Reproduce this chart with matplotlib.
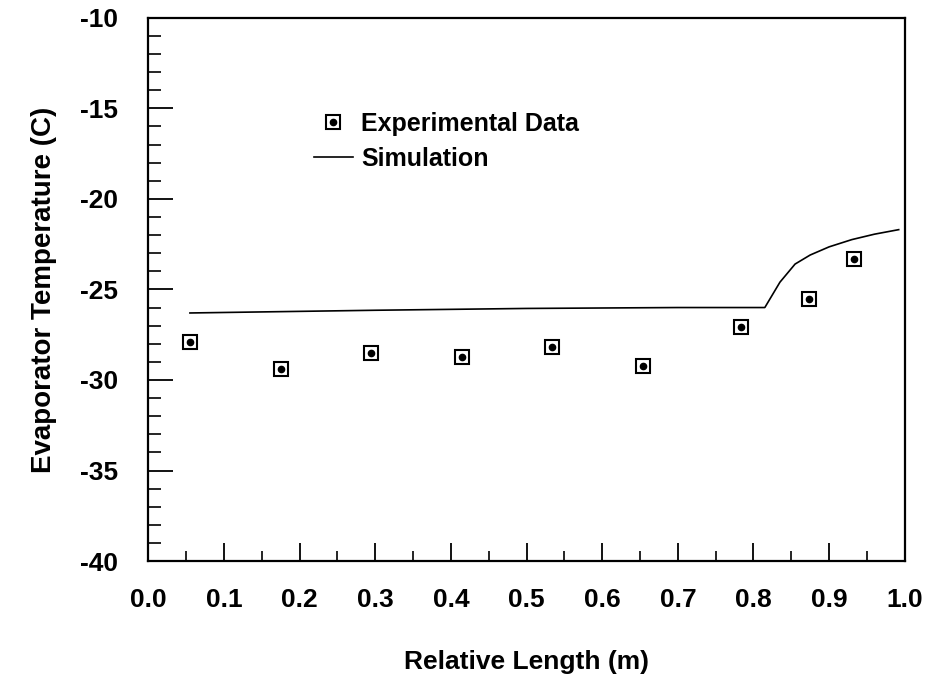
import matplotlib
matplotlib.use("Agg")
import matplotlib.pyplot as plt
from matplotlib.legend_handler import HandlerTuple
from matplotlib.ticker import MultipleLocator

plt.rcParams['font.family'] = ['Liberation Sans', 'DejaVu Sans']
plt.rcParams['font.weight'] = 'bold'
plt.rcParams['axes.unicode_minus'] = False

# experimental points
exp_x = [0.055, 0.176, 0.294, 0.415, 0.534, 0.654, 0.784, 0.874, 0.933]
exp_t = [-27.9, -29.4, -28.5, -28.75, -28.2, -29.25, -27.1, -25.55, -23.3]

# simulation curve
sim_x = [0.055, 0.30, 0.50, 0.70, 0.815, 0.835, 0.855, 0.875, 0.90, 0.93, 0.96, 0.992]
sim_t = [-26.3, -26.15, -26.05, -26.0, -26.0, -24.6, -23.6, -23.1, -22.65, -22.25, -21.95, -21.7]

fig = plt.figure(figsize=(9.27, 6.81), dpi=100)
ax = fig.add_axes([0.16, 0.176, 0.816, 0.798])

sq, = ax.plot(exp_x, exp_t, ls='none', marker='s', ms=10, mfc='none',
              mec='black', mew=1.5)
dot, = ax.plot(exp_x, exp_t, ls='none', marker='o', ms=4.5, color='black')
sim, = ax.plot(sim_x, sim_t, color='black', lw=1.2)

ax.set_xlim(0.0, 1.0)
ax.set_ylim(-40, -10)
ax.xaxis.set_major_locator(MultipleLocator(0.1))
ax.xaxis.set_minor_locator(MultipleLocator(0.05))
ax.yaxis.set_major_locator(MultipleLocator(5))
ax.yaxis.set_minor_locator(MultipleLocator(1))
ax.xaxis.set_major_formatter(plt.FormatStrFormatter('%.1f'))

ax.tick_params(axis='x', which='major', direction='in', length=13, width=1.3,
               labelsize=19, pad=19, top=False)
ax.tick_params(axis='x', which='minor', direction='in', length=7, width=1.2, top=False)
ax.tick_params(axis='y', which='major', direction='in', length=18, width=1.3,
               labelsize=19, pad=22, right=False)
ax.tick_params(axis='y', which='minor', direction='in', length=9, width=1.2, right=False)
for s in ax.spines.values():
    s.set_linewidth(1.6)

ax.set_xlabel('Relative Length (m)', fontsize=19, fontweight='bold', labelpad=28)
ax.set_ylabel('Evaporator Temperature (C)', fontsize=20, fontweight='bold', labelpad=16)

ax.legend([(sq, dot), sim], ['Experimental Data', 'Simulation'],
          handler_map={tuple: HandlerTuple(ndivide=1)},
          loc='upper left', bbox_to_anchor=(0.219, 0.827), frameon=False,
          fontsize=18, handlelength=1.55, handletextpad=0.35, labelspacing=0.45,
          borderpad=0, borderaxespad=0)

fig.savefig('out.png', dpi=100)
